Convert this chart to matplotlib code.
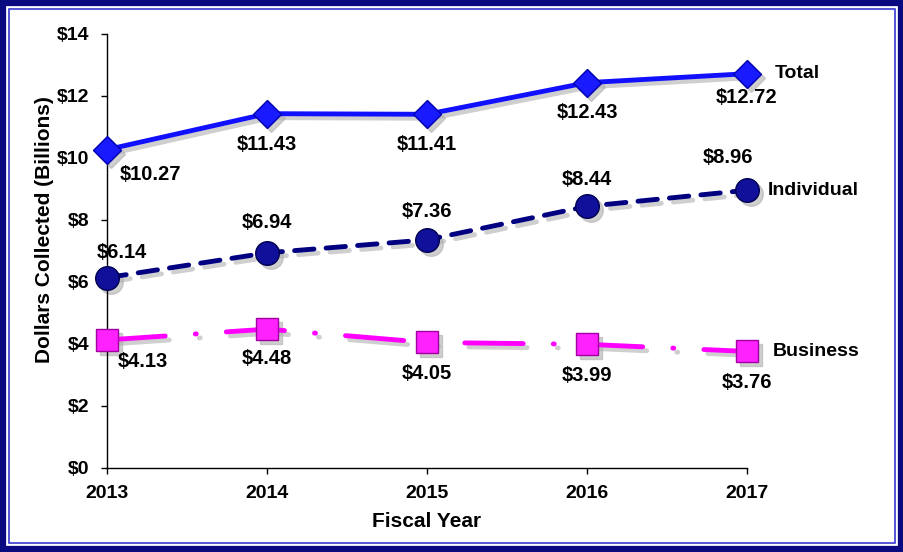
import matplotlib.pyplot as plt
import matplotlib.transforms as mtransforms
from matplotlib.patches import Rectangle

years = [2013, 2014, 2015, 2016, 2017]
total = [10.27, 11.43, 11.41, 12.43, 12.72]
individual = [6.14, 6.94, 7.36, 8.44, 8.96]
business = [4.13, 4.48, 4.05, 3.99, 3.76]
yticks = [0, 2, 4, 6, 8, 10, 12, 14]

plt.rcParams['font.family'] = ['Liberation Sans', 'DejaVu Sans']
plt.rcParams['font.weight'] = 'bold'

fig = plt.figure(figsize=(9.04, 5.52), dpi=100)
ax = fig.add_axes([107 / 904, 84 / 552, 640 / 904, 434 / 552])

# soft drop shadow: same data, shifted a few pixels
shift = ax.transData + mtransforms.ScaledTranslation(4 / 100, -4 / 100, fig.dpi_scale_trans)

series = [
    (total, dict(color='#1010ff', lw=3.5, marker='D', ms=14, mfc='#1a1aff', mec='#0000b0',
                 solid_capstyle='round'), 5),
    (individual, dict(color='#000080', lw=3.5, dashes=(4, 2.5), dash_capstyle='round',
                      marker='o', ms=17, mfc='#10109a', mec='#000050'), 4),
    (business, dict(color='#ff00ff', lw=3.5, dashes=(12, 6.2, 0.2, 6.2), dash_capstyle='round',
                    marker='s', ms=16, mfc='#ff22ff', mec='#a000a0'), 3),
]
for vals, kw, z in series:
    sh = dict(kw)
    sh.update(color='#b0b0b0', mfc='#b0b0b0', mec='#b0b0b0')
    ax.plot(years, vals, transform=shift, alpha=0.6, clip_on=False, zorder=z - 2, **sh)
    ax.plot(years, vals, clip_on=False, zorder=z, **kw)

# value labels (offsets in pixels)
tot_off = [(43, -25), (0, -31), (0, -30), (0, -30), (0, -24)]
ind_off = [(15, 25), (0, 30), (0, 28), (0, 27), (-19, 33)]
bus_off = [(36, -22), (0, -29), (0, -31), (0, -31), (0, -31)]
for vals, offs in [(total, tot_off), (individual, ind_off), (business, bus_off)]:
    for x, v, o in zip(years, vals, offs):
        ax.annotate(f'${v:.2f}', (x, v), xytext=o, textcoords='offset pixels',
                    ha='center', va='center', fontsize=14.5, fontweight='bold',
                    annotation_clip=False, zorder=10)

for name, vals, dx in [('Total', total, 28), ('Individual', individual, 21),
                       ('Business', business, 26)]:
    ax.annotate(name, (years[-1], vals[-1]), xytext=(dx, 0), textcoords='offset pixels',
                ha='left', va='center', fontsize=14, fontweight='bold',
                annotation_clip=False)

ax.set_xlim(2013, 2017)
ax.set_ylim(0, 14)
ax.set_xticks(years)
ax.set_yticks(yticks)
ax.set_yticklabels([f'${t}' for t in yticks])
ax.tick_params(axis='both', labelsize=14, length=4.5, width=1, direction='out')
ax.tick_params(axis='x', pad=8)
ax.tick_params(axis='y', pad=8)
for lab in ax.get_xticklabels() + ax.get_yticklabels():
    lab.set_fontweight('bold')
for s in ['top', 'right']:
    ax.spines[s].set_visible(False)
for s in ['left', 'bottom']:
    ax.spines[s].set_linewidth(1)

ax.set_xlabel('Fiscal Year', fontsize=15, fontweight='bold')
ax.set_ylabel('Dollars Collected (Billions)', fontsize=15, fontweight='bold')
ax.xaxis.set_label_coords(0.5, -0.124)
ax.yaxis.set_label_coords(-0.097, 0.55)
ax.xaxis.label.set_va('center')
ax.yaxis.label.set_va('center')

# frame
fig.patches.append(Rectangle((3 / 904, 3 / 552), 898 / 904, 546 / 552, transform=fig.transFigure,
                             fill=False, edgecolor='#0a0a80', lw=4.5))
fig.patches.append(Rectangle((9 / 904, 9 / 552), 886 / 904, 534 / 552, transform=fig.transFigure,
                             fill=False, edgecolor='#3a3ad0', lw=1.2))

fig.savefig('out.png', dpi=100)
